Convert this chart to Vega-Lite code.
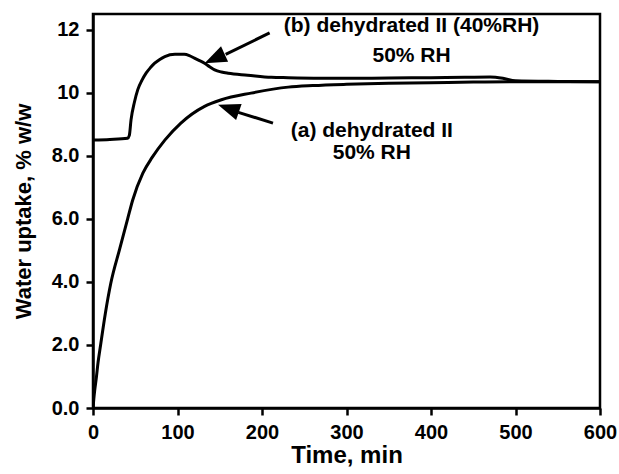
{
  "$schema": "https://vega.github.io/schema/vega-lite/v6.json",
  "autosize": "none",
  "width": 507,
  "height": 394,
  "padding": {"left": 93, "top": 14, "right": 19, "bottom": 66},
  "background": "white",
  "config": {
    "view": {"stroke": "black", "strokeWidth": 2.5},
    "font": "Liberation Sans",
    "axis": {
      "grid": false,
      "domainColor": "black",
      "domainWidth": 2.5,
      "tickColor": "black",
      "tickWidth": 2.5,
      "tickSize": 7,
      "labelFont": "Liberation Sans",
      "labelFontWeight": "bold",
      "labelFontSize": 20,
      "labelColor": "black",
      "titleFont": "Liberation Sans",
      "titleFontWeight": "bold",
      "titleColor": "black"
    }
  },
  "datasets": {
    "curves": [
      {"series": "a", "t": 0, "w": 0},
      {"series": "a", "t": 1, "w": 0.3},
      {"series": "a", "t": 2, "w": 0.55},
      {"series": "a", "t": 3.9, "w": 0.95},
      {"series": "a", "t": 6, "w": 1.45},
      {"series": "a", "t": 9, "w": 2.0},
      {"series": "a", "t": 14.6, "w": 3.0},
      {"series": "a", "t": 21, "w": 3.95},
      {"series": "a", "t": 31.6, "w": 5.05},
      {"series": "a", "t": 41, "w": 6.0},
      {"series": "a", "t": 47, "w": 6.6},
      {"series": "a", "t": 59, "w": 7.45},
      {"series": "a", "t": 70, "w": 7.95},
      {"series": "a", "t": 85, "w": 8.5},
      {"series": "a", "t": 104, "w": 9.04},
      {"series": "a", "t": 132, "w": 9.57},
      {"series": "a", "t": 152, "w": 9.78},
      {"series": "a", "t": 187, "w": 9.99},
      {"series": "a", "t": 231, "w": 10.18},
      {"series": "a", "t": 260, "w": 10.23},
      {"series": "a", "t": 300, "w": 10.27},
      {"series": "a", "t": 350, "w": 10.3},
      {"series": "a", "t": 400, "w": 10.32},
      {"series": "a", "t": 450, "w": 10.34},
      {"series": "a", "t": 500, "w": 10.35},
      {"series": "a", "t": 550, "w": 10.35},
      {"series": "a", "t": 600, "w": 10.35},
      {"series": "b", "t": 0, "w": 8.5},
      {"series": "b", "t": 20, "w": 8.52},
      {"series": "b", "t": 41, "w": 8.56},
      {"series": "b", "t": 43, "w": 8.65},
      {"series": "b", "t": 45, "w": 9.14},
      {"series": "b", "t": 49, "w": 9.7},
      {"series": "b", "t": 53, "w": 10.1},
      {"series": "b", "t": 58, "w": 10.4},
      {"series": "b", "t": 63, "w": 10.63},
      {"series": "b", "t": 68, "w": 10.8},
      {"series": "b", "t": 73, "w": 10.94},
      {"series": "b", "t": 79, "w": 11.06},
      {"series": "b", "t": 85, "w": 11.15},
      {"series": "b", "t": 97, "w": 11.22},
      {"series": "b", "t": 108, "w": 11.22},
      {"series": "b", "t": 114, "w": 11.18},
      {"series": "b", "t": 120, "w": 11.1},
      {"series": "b", "t": 126, "w": 11.02},
      {"series": "b", "t": 132, "w": 10.94},
      {"series": "b", "t": 138, "w": 10.83},
      {"series": "b", "t": 144, "w": 10.73},
      {"series": "b", "t": 152, "w": 10.66},
      {"series": "b", "t": 160, "w": 10.62},
      {"series": "b", "t": 183, "w": 10.56},
      {"series": "b", "t": 211, "w": 10.49},
      {"series": "b", "t": 231, "w": 10.48},
      {"series": "b", "t": 300, "w": 10.46},
      {"series": "b", "t": 350, "w": 10.47},
      {"series": "b", "t": 400, "w": 10.48},
      {"series": "b", "t": 440, "w": 10.49},
      {"series": "b", "t": 470, "w": 10.5},
      {"series": "b", "t": 485, "w": 10.46},
      {"series": "b", "t": 500, "w": 10.38},
      {"series": "b", "t": 550, "w": 10.36},
      {"series": "b", "t": 600, "w": 10.35}
    ],
    "arrows": [
      {"id": "b", "t1": 209, "w1": 11.9, "t2": 157, "w2": 11.22, "tt": 132, "wt": 10.94, "ang": 245.5},
      {"id": "a", "t1": 213, "w1": 9.04, "t2": 172, "w2": 9.38, "tt": 148, "wt": 9.62, "ang": 289}
    ],
    "labels": [
      {"t": 377, "w": 11.94, "txt": "(b) dehydrated II (40%RH)"},
      {"t": 377, "w": 10.98, "txt": "50% RH"},
      {"t": 330, "w": 8.6, "txt": "(a) dehydrated II"},
      {"t": 330, "w": 7.9, "txt": "50% RH"}
    ]
  },
  "layer": [
    {
      "data": {"name": "curves"},
      "mark": {"type": "line", "strokeWidth": 3, "color": "black", "clip": true, "interpolate": "monotone"},
      "encoding": {
        "x": {
          "field": "t", "type": "quantitative",
          "scale": {"domain": [0, 600], "nice": false, "zero": false},
          "axis": {"values": [0, 100, 200, 300, 400, 500, 600], "title": "Time, min", "titleFontSize": 24, "labelPadding": 7, "titlePadding": 1, "labelFlush": false}
        },
        "y": {
          "field": "w", "type": "quantitative",
          "scale": {"domain": [0, 12.5], "nice": false},
          "axis": {"values": [0, 2, 4, 6, 8, 10, 12], "title": "Water uptake, % w/w", "titleFontSize": 22, "labelPadding": 7, "titlePadding": 16,
                   "labelExpr": "datum.value >= 10 ? format(datum.value, 'd') : format(datum.value, '.1f')"}
        },
        "detail": {"field": "series"}
      }
    },
    {
      "data": {"name": "arrows"},
      "mark": {"type": "rule", "strokeWidth": 3, "color": "black"},
      "encoding": {
        "x": {"field": "t1", "type": "quantitative"},
        "y": {"field": "w1", "type": "quantitative"},
        "x2": {"field": "t2"},
        "y2": {"field": "w2"}
      }
    },
    {
      "data": {"name": "arrows"},
      "mark": {"type": "point", "shape": "M0,0L0.85,2.2L-0.85,2.2Z", "filled": true, "color": "black", "opacity": 1, "size": 400, "strokeWidth": 0},
      "encoding": {
        "x": {"field": "tt", "type": "quantitative"},
        "y": {"field": "wt", "type": "quantitative"},
        "angle": {"field": "ang", "type": "quantitative", "scale": null}
      }
    },
    {
      "data": {"name": "labels"},
      "mark": {"type": "text", "font": "Liberation Sans", "fontWeight": "bold", "fontSize": 21, "align": "center", "baseline": "alphabetic", "color": "black"},
      "encoding": {
        "x": {"field": "t", "type": "quantitative"},
        "y": {"field": "w", "type": "quantitative"},
        "text": {"field": "txt"}
      }
    }
  ]
}
